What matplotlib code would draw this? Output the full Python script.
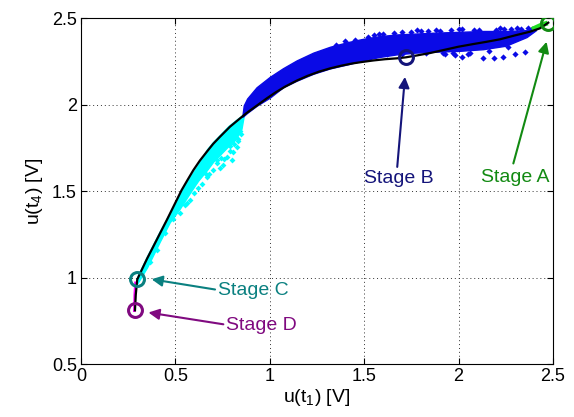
import matplotlib
matplotlib.use("Agg")
import matplotlib.pyplot as plt

plt.rcParams['font.family'] = ['Liberation Sans', 'DejaVu Sans']
plt.rcParams['mathtext.default'] = 'regular'

# ---- data ----
curve_x = [0.286, 0.29, 0.298, 0.3125, 0.35, 0.383, 0.418, 0.454, 0.498, 0.533, 0.565,
           0.595, 0.63, 0.666, 0.70, 0.736, 0.789, 0.842, 0.878, 0.93, 0.983, 1.03, 1.08,
           1.142, 1.20, 1.26, 1.319, 1.38, 1.44, 1.495, 1.55, 1.61, 1.672, 1.721, 1.78,
           1.85, 1.92, 1.998, 2.08, 2.15, 2.219, 2.30, 2.378, 2.43, 2.475]
curve_y = [0.812, 0.90, 0.99, 1.024, 1.11, 1.18, 1.255, 1.332, 1.429, 1.506, 1.566,
           1.621, 1.677, 1.727, 1.773, 1.814, 1.872, 1.920, 1.952, 1.993, 2.035, 2.07, 2.103,
           2.138, 2.166, 2.19, 2.209, 2.225, 2.238, 2.247, 2.255, 2.262, 2.267, 2.273, 2.284,
           2.298, 2.315, 2.334, 2.35, 2.363, 2.377, 2.40, 2.421, 2.44, 2.473]

cyan_x = [0.29, 0.30, 0.35, 0.418, 0.47, 0.524, 0.577, 0.62, 0.666, 0.70, 0.736, 0.78,
          0.82, 0.85, 0.862]
cyan_upper = [0.96, 1.01, 1.125, 1.27, 1.375, 1.49, 1.58, 1.65, 1.74, 1.785, 1.825, 1.875,
              1.91, 1.935, 1.945]
cyan_lower = [0.96, 0.97, 1.06, 1.21, 1.32, 1.40, 1.49, 1.56, 1.62, 1.67, 1.71, 1.76,
              1.80, 1.86, 1.935]
cyan_pts_x = [0.365, 0.40, 0.445, 0.489, 0.524, 0.55, 0.577, 0.60, 0.621, 0.64, 0.666,
              0.68, 0.70, 0.719, 0.736, 0.754, 0.772, 0.789, 0.798, 0.807, 0.825, 0.833,
              0.76, 0.74, 0.81, 0.845, 0.56, 0.66, 0.72, 0.79, 0.83, 0.84]
cyan_pts_y = [1.09, 1.16, 1.26, 1.34, 1.371, 1.42, 1.448, 1.49, 1.516, 1.54, 1.583,
              1.60, 1.62, 1.66, 1.631, 1.65, 1.70, 1.73, 1.679, 1.727, 1.756, 1.80,
              1.685, 1.69, 1.77, 1.83, 1.43, 1.60, 1.68, 1.76, 1.79, 1.85]

blue_x = [0.855, 0.862, 0.88, 0.93, 1.0, 1.07, 1.142, 1.23, 1.319, 1.41, 1.495, 1.58,
          1.672, 1.77, 1.866, 2.0, 2.13, 2.25, 2.36, 2.41]
blue_upper = [1.935, 1.995, 2.035, 2.10, 2.16, 2.21, 2.255, 2.30, 2.334, 2.36, 2.38, 2.395,
              2.405, 2.41, 2.415, 2.42, 2.425, 2.425, 2.43, 2.44]
blue_lower = [1.93, 1.935, 1.952, 1.993, 2.04, 2.10, 2.138, 2.178, 2.209, 2.232, 2.255,
              2.275, 2.29, 2.30, 2.305, 2.31, 2.32, 2.34, 2.39, 2.43]
blue_pts_x = [1.83, 1.92, 1.93, 1.98, 2.016, 2.05, 2.13, 2.19, 2.237, 2.30, 2.35,
              1.45, 1.52, 1.60, 1.66, 1.75, 1.80, 1.90, 2.08, 2.20, 2.28, 2.33,
              1.35, 1.62, 1.70, 1.97, 2.06, 2.16, 2.26, 2.39,
              1.40, 1.55, 1.70, 1.84, 1.96, 2.02, 2.11, 2.22, 2.31, 2.37,
              1.58, 1.78, 1.88, 2.00, 2.24]
blue_pts_y = [2.296, 2.296, 2.29, 2.286, 2.276, 2.29, 2.267, 2.267, 2.276, 2.29, 2.305,
              2.372, 2.392, 2.405, 2.413, 2.42, 2.425, 2.427, 2.432, 2.432, 2.435, 2.437,
              2.345, 2.29, 2.295, 2.30, 2.30, 2.31, 2.33, 2.435,
              2.37, 2.40, 2.418, 2.425, 2.43, 2.435, 2.432, 2.44, 2.44, 2.44,
              2.41, 2.428, 2.432, 2.437, 2.434]
green_x = [2.40, 2.42, 2.44, 2.46]
green_y = [2.44, 2.45, 2.46, 2.467]
mag_x = [0.283, 0.285, 0.289]
mag_y = [0.81, 0.90, 0.97]

stages = ['Stage A', 'Stage B', 'Stage C', 'Stage D']
stage_x = [2.475, 1.721, 0.298, 0.286]
stage_y = [2.473, 2.273, 0.991, 0.812]
stage_colors = ['#128a12', '#14147a', '#0a8080', '#800a80']
text_x = [2.30, 1.684, 0.912, 0.953]
text_y = [1.58, 1.575, 0.928, 0.725]
tail_x = [2.29, 1.675, 0.71, 0.754]
tail_y = [1.66, 1.64, 0.932, 0.731]
tip_x = [2.466, 1.716, 0.374, 0.357]
tip_y = [2.363, 2.16, 0.991, 0.799]

xticks = [0, 0.5, 1, 1.5, 2, 2.5]
yticks = [0.5, 1, 1.5, 2, 2.5]
xticklabels = ['0', '0.5', '1', '1.5', '2', '2.5']
yticklabels = ['0.5', '1', '1.5', '2', '2.5']

fig = plt.figure(figsize=(5.74, 4.17), dpi=100)
ax = fig.add_axes([0.1411, 0.1264, 0.8223, 0.8304])

ax.fill_between(cyan_x, cyan_lower, cyan_upper, color='#00ffff', lw=1.0, zorder=2)
ax.scatter(cyan_pts_x, cyan_pts_y, marker='D', s=9, color='#00ffff', lw=0, zorder=2)
ax.fill_between(blue_x, blue_lower, blue_upper, color='#0a0ae6', lw=1.0, zorder=2)
ax.scatter(blue_pts_x, blue_pts_y, marker='D', s=10, color='#0a0ae6', lw=0, zorder=2)
ax.plot(green_x, green_y, color='#22dd22', lw=3.5, zorder=3)
ax.plot(mag_x, mag_y, color='#ff00ff', lw=2, zorder=3)
ax.plot(curve_x, curve_y, color='black', lw=1.6, zorder=4)

for i in range(len(stages)):
    c = stage_colors[i]
    ax.plot([stage_x[i]], [stage_y[i]], marker='o', ms=10, mfc='none', mec=c, mew=2.2, zorder=5)
    ax.annotate('', xy=(tip_x[i], tip_y[i]), xytext=(tail_x[i], tail_y[i]),
                arrowprops=dict(arrowstyle='-|>', color=c, lw=1.5, mutation_scale=16,
                                shrinkA=0, shrinkB=0), zorder=5)
    ax.text(text_x[i], text_y[i], stages[i], color=c, fontsize=14, ha='center', va='center', zorder=6)

ax.set_xlim(0, 2.5)
ax.set_ylim(0.5, 2.5)
ax.set_xticks(xticks)
ax.set_yticks(yticks)
ax.set_xticklabels(xticklabels)
ax.set_yticklabels(yticklabels)
ax.tick_params(direction='in', length=4, width=0.8, top=True, right=True, labelsize=13, pad=3)
ax.grid(True, linestyle=(0, (1, 3)), color='#333333', lw=0.7)
for s in ax.spines.values():
    s.set_linewidth(0.8)
ax.set_xlabel('u(t$_1$) [V]', fontsize=14, labelpad=1)
ax.set_ylabel('u(t$_4$) [V]', fontsize=14, labelpad=5)

fig.savefig('out.png', dpi=100)
